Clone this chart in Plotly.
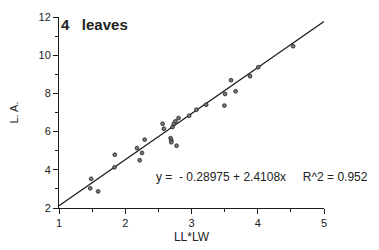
import plotly.graph_objects as go

# Data
ll_lw = [1.486, 1.471, 1.591, 1.842, 1.838, 2.177, 2.293, 2.253, 2.218,
         2.564, 2.583, 2.714, 2.734, 2.759, 2.805, 2.965, 3.075, 2.684,
         2.695, 2.695, 2.774, 3.221, 3.507, 3.666, 3.597, 3.496, 3.883,
         4.008, 4.534]
leaf_area = [3.53, 3.03, 2.87, 4.79, 4.13, 5.14, 5.58, 4.88, 4.50,
             6.41, 6.15, 6.24, 6.41, 6.54, 6.71, 6.83, 7.15, 5.66,
             5.54, 5.44, 5.26, 7.41, 7.97, 8.11, 8.69, 7.36, 8.90,
             9.37, 10.47]
intercept = -0.28975
slope = 2.4108
r2 = 0.952
fit_x = [1, 5]
fit_y = [intercept + slope * v for v in fit_x]

x_ticks = [1, 2, 3, 4, 5]
y_ticks = [2, 4, 6, 8, 10, 12]

font_family = "Liberation Sans, Arial, sans-serif"
ink = "#1a1a1a"

fig = go.Figure()
fig.add_trace(go.Scatter(
    x=fit_x, y=fit_y, mode="lines",
    line=dict(color=ink, width=1.3), showlegend=False, hoverinfo="skip"))
fig.add_trace(go.Scatter(
    x=ll_lw, y=leaf_area, mode="markers",
    marker=dict(size=3.8, color="#777777", line=dict(color="#222222", width=0.8)),
    showlegend=False))

axis_common = dict(
    showgrid=False, zeroline=False, showline=True, linecolor=ink, linewidth=1,
    ticks="outside", ticklen=5, tickwidth=1, tickcolor=ink,
    tickfont=dict(family=font_family, size=11, color="#222222"),
    mirror=False, automargin=False,
)

fig.update_xaxes(
    range=[1, 5], tickvals=x_ticks, ticktext=[str(v) for v in x_ticks],
    minor=dict(dtick=0.5, ticks="outside", ticklen=3, tickcolor=ink, showgrid=False),
    title=dict(text="LL*LW", font=dict(family=font_family, size=12, color="#222222"), standoff=4),
    **axis_common)
fig.update_yaxes(
    range=[2, 12], tickvals=y_ticks, ticktext=[str(v) for v in y_ticks],
    minor=dict(dtick=1, ticks="outside", ticklen=3, tickcolor=ink, showgrid=False),
    title=dict(text="L. A.", font=dict(family=font_family, size=11, color="#222222"), standoff=22),
    **axis_common)

fig.add_annotation(
    x=0.0, y=0.962, xref="paper", yref="paper", xanchor="left", yanchor="middle",
    text="<b>4   leaves</b>", showarrow=False,
    font=dict(family=font_family, size=15, color="#222222"))
fig.add_annotation(
    x=0.357, y=0.16, xref="paper", yref="paper", xanchor="left", yanchor="middle",
    text=f"y =  - {abs(intercept)} + {slope}x     R^2 = {r2}", showarrow=False,
    font=dict(family=font_family, size=12, color="#222222"))

fig.update_layout(
    width=379, height=250,
    margin=dict(l=51, r=63, t=9, b=50),
    paper_bgcolor="white", plot_bgcolor="white",
    font=dict(family=font_family),
)

fig.write_html("out.html")
